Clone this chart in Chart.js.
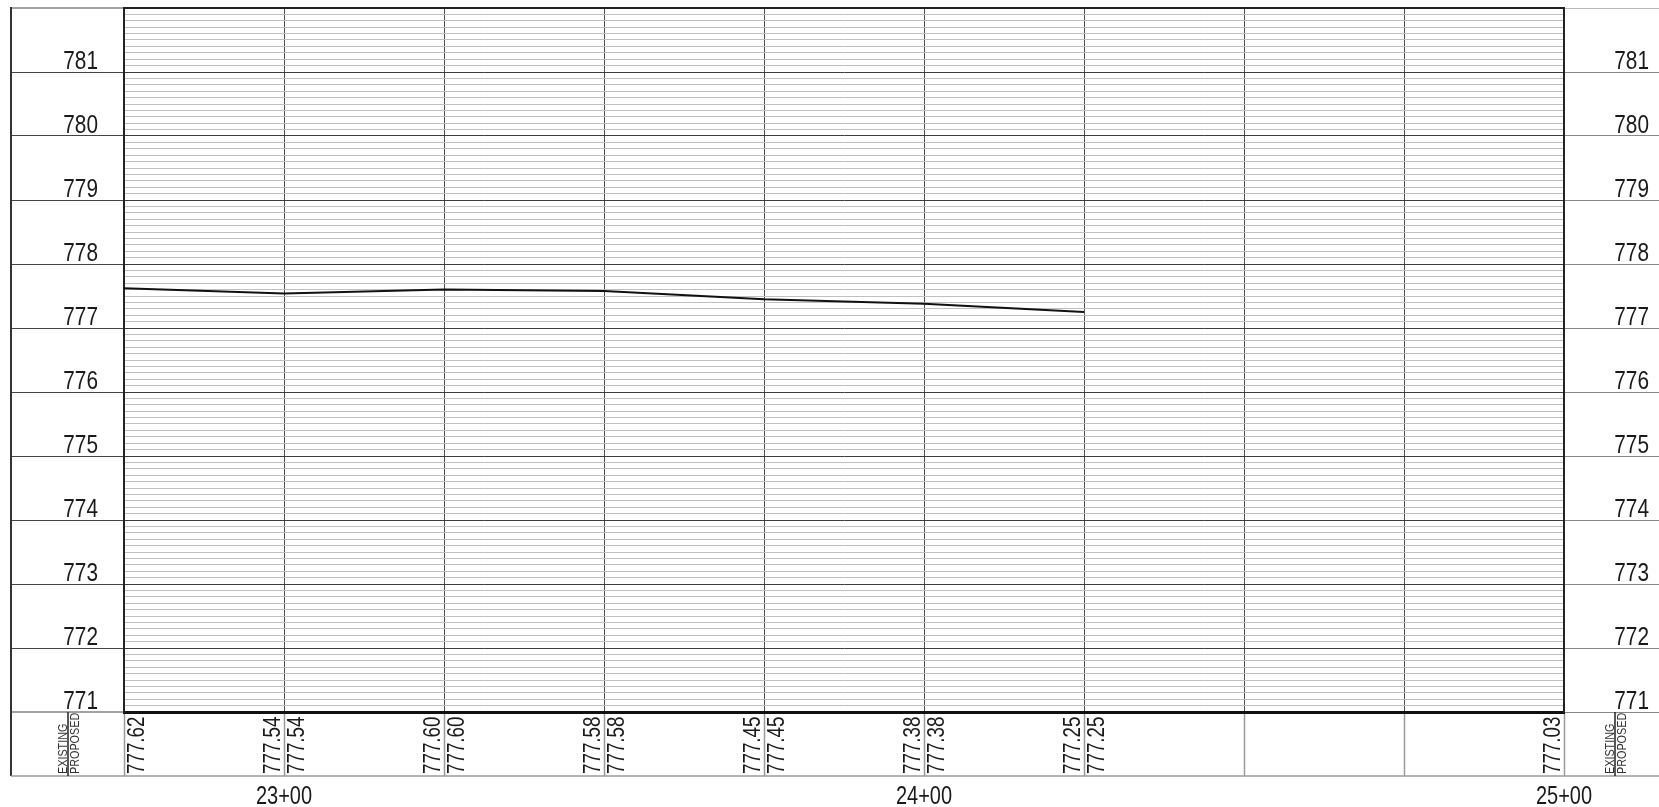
<!DOCTYPE html>
<html>
<head>
<meta charset="utf-8">
<script src="https://cdn.jsdelivr.net/npm/chart.js@4.4.1/dist/chart.umd.min.js"></script>
<style>
html,body{margin:0;padding:0;background:#fff;overflow:hidden}
canvas{display:block}
</style>
</head>
<body>
<canvas id="c" width="1659" height="807"></canvas>
<script>
// ---- data ----
const stations = [2275, 2300, 2325, 2350, 2375, 2400, 2425, 2450, 2475, 2500];
const existing = [null, 777.54, 777.60, 777.58, 777.45, 777.38, 777.25, null, null, 777.03];
const proposed = [777.62, 777.54, 777.60, 777.58, 777.45, 777.38, 777.25, null, null, null];
const stationTickValues = [2300, 2400, 2500];
const stationTickLabels = ['23+00', '24+00', '25+00'];
const elevationTickValues = [771, 772, 773, 774, 775, 776, 777, 778, 779, 780, 781];
const elevationTickLabels = ['771', '772', '773', '774', '775', '776', '777', '778', '779', '780', '781'];
const headerLabels = ['EXISTING', 'PROPOSED'];
const yMin = 771, yMax = 782;
const xMin = 2275, xMax = 2500;

const FONT = "'Liberation Sans', Arial, sans-serif";
const CONDENSE = 0.8; // narrow drafting lettering
Chart.defaults.font.family = FONT;

function isWhole(v) { return Math.abs(v - Math.round(v)) < 1e-6; }
function elevLabel(v) {
  for (let i = 0; i < elevationTickValues.length; i++) {
    if (Math.abs(v - elevationTickValues[i]) < 1e-6) return elevationTickLabels[i];
  }
  return '';
}
function isEdge(v) { return Math.abs(v - yMin) < 1e-6 || Math.abs(v - yMax) < 1e-6; }

// draw the library's tick labels with narrow lettering
function condense(scale) {
  if (scale.$condensed) return;
  scale.$condensed = true;
  const base = scale.drawLabels;
  scale.drawLabels = function (area) {
    const ctx = this.ctx;
    const origRotate = ctx.rotate;
    ctx.rotate = function (a) { origRotate.call(this, a); this.scale(CONDENSE, 1); };
    try { base.call(this, area); } finally { ctx.rotate = origRotate; }
  };
}

const bandPlugin = {
  id: 'bandPlugin',
  afterDraw(chart) {
    const ctx = chart.ctx;
    const xs = chart.scales.x;
    const yl = chart.scales.y;
    const yr = chart.scales.y2;
    const ca = chart.chartArea;
    const bandTop = xs.top;
    const bandBottom = xs.top + xs.options.grid.tickLength;
    ctx.save();
    // outer left border
    ctx.strokeStyle = '#333';
    ctx.lineWidth = 2;
    ctx.beginPath();
    ctx.moveTo(yl.left, ca.top - 1);
    ctx.lineTo(yl.left, bandBottom);
    ctx.stroke();
    // band bottom
    ctx.strokeStyle = '#999';
    ctx.lineWidth = 1.5;
    ctx.beginPath();
    ctx.moveTo(yl.left, bandBottom);
    ctx.lineTo(chart.width, bandBottom);
    ctx.stroke();
    // header separators
    const sepL = yl.left + 57;
    const sepR = yr.left + 51;
    ctx.strokeStyle = '#222';
    ctx.lineWidth = 1.5;
    ctx.beginPath();
    ctx.moveTo(sepL, bandTop); ctx.lineTo(sepL, bandBottom);
    ctx.moveTo(sepR, bandTop); ctx.lineTo(sepR, bandBottom);
    ctx.stroke();

    const startY = bandBottom - 2;
    function rot(text, x, baselineOffset, size) {
      ctx.save();
      ctx.translate(x, startY);
      ctx.rotate(-Math.PI / 2);
      ctx.scale(CONDENSE, 1);
      ctx.font = size + 'px ' + FONT;
      ctx.textAlign = 'left';
      ctx.textBaseline = 'alphabetic';
      ctx.fillText(text, 0, baselineOffset);
      ctx.restore();
    }
    ctx.fillStyle = '#333';
    const hs = 13.5;
    [sepL, sepR].forEach(s => {
      rot(headerLabels[0], s, -1, hs);
      rot(headerLabels[1], s, 1 + hs * 0.72, hs);
    });
    // elevation values
    ctx.fillStyle = '#1a1a1a';
    const fs = 23.5;
    for (let i = 0; i < stations.length; i++) {
      const px = xs.getPixelForValue(stations[i]);
      if (existing[i] != null) rot(existing[i].toFixed(2), px, -4, fs);
      if (proposed[i] != null) rot(proposed[i].toFixed(2), px, 3 + fs * 0.72, fs);
    }
    ctx.restore();
  }
};

new Chart(document.getElementById('c'), {
  type: 'line',
  data: {
    datasets: [{
      label: 'Proposed',
      data: stations.map((s, i) => ({x: s, y: proposed[i]})),
      borderColor: '#111',
      borderWidth: 2,
      pointRadius: 0,
      tension: 0,
      spanGaps: false,
      fill: false
    }]
  },
  options: {
    responsive: false,
    animation: false,
    devicePixelRatio: 1,
    layout: {padding: {left: 11, top: 8, right: 10, bottom: 0}},
    plugins: {legend: {display: false}, tooltip: {enabled: false}},
    scales: {
      x: {
        type: 'linear',
        position: 'bottom',
        min: xMin, max: xMax,
        ticks: {
          stepSize: 25,
          autoSkip: false,
          maxRotation: 0,
          padding: 6,
          color: '#1a1a1a',
          font: {size: 25},
          callback: v => {
            const k = stationTickValues.indexOf(Math.round(v));
            return k >= 0 ? stationTickLabels[k] : '';
          }
        },
        grid: {color: '#505050', lineWidth: 1, tickColor: '#9a9a9a', tickWidth: 1.5, tickLength: 64, drawTicks: true},
        border: {display: true, color: '#111', width: 3},
        afterFit: s => { s.height = 95; s.paddingLeft = 0; s.paddingRight = 0; },
        afterUpdate: condense
      },
      y: {
        type: 'linear',
        position: 'left',
        min: yMin, max: yMax,
        ticks: {
          stepSize: 0.1,
          autoSkip: false,
          padding: -87,
          labelOffset: -10,
          color: '#1a1a1a',
          font: {size: 26},
          callback: v => elevLabel(v)
        },
        grid: {
          color: c => {
            const v = c.tick ? c.tick.value : 0;
            if (isEdge(v)) return '#222';
            return isWhole(v) ? '#3c3c3c' : '#c0c0c0';
          },
          lineWidth: c => (c.tick && isEdge(c.tick.value)) ? 2 : 1,
          tickColor: c => (c.tick && isWhole(c.tick.value)) ? '#444' : 'rgba(0,0,0,0)',
          tickWidth: 1,
          tickLength: 113,
          drawTicks: true
        },
        border: {display: true, color: '#222', width: 2},
        afterFit: s => { s.width = 113; s.paddingTop = 0; s.paddingBottom = 0; },
        afterUpdate: condense
      },
      y2: {
        type: 'linear',
        position: 'right',
        min: yMin, max: yMax,
        ticks: {
          stepSize: 0.1,
          autoSkip: false,
          crossAlign: 'far',
          labelOffset: -10,
          color: '#1a1a1a',
          font: {size: 26},
          callback: v => elevLabel(v)
        },
        grid: {
          drawOnChartArea: false,
          tickColor: c => {
            if (!c.tick) return 'rgba(0,0,0,0)';
            if (Math.abs(c.tick.value - yMax) < 1e-6) return '#bbb';
            return isWhole(c.tick.value) ? '#888' : 'rgba(0,0,0,0)';
          },
          tickWidth: 1,
          tickLength: 95,
          drawTicks: true
        },
        border: {display: true, color: '#222', width: 2},
        afterFit: s => { s.width = 85; s.paddingTop = 0; s.paddingBottom = 0; },
        afterUpdate: condense
      }
    }
  },
  plugins: [bandPlugin]
});
</script>
</body>
</html>
